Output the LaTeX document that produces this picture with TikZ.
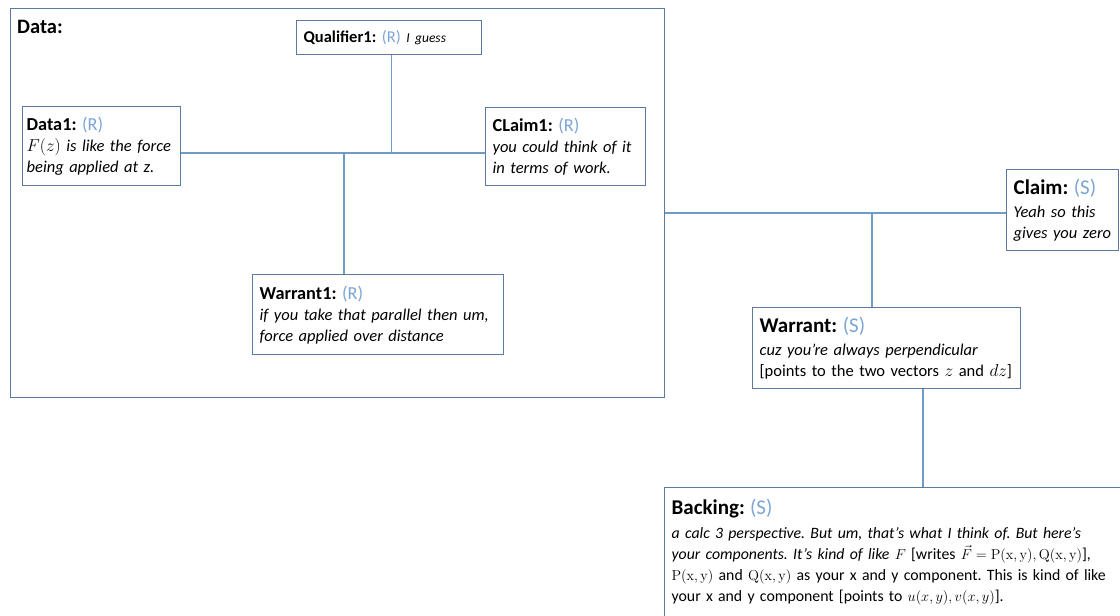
\documentclass[tikz,border=0pt]{standalone}
\usepackage[no-math]{fontspec}
\setmainfont{Carlito}
\frenchspacing

\definecolor{boxline}{HTML}{5B7B9E}
\definecolor{linkline}{HTML}{6F9BC8}
\definecolor{who}{HTML}{7BA6D6}

% header of a box: bold name plus the speaker tag in blue
\newcommand{\headsm}[2]{{\fontsize{18.3}{21}\selectfont\textbf{#1} {\color{who}(#2)}}}
\newcommand{\headbig}[2]{{\fontsize{21}{24}\selectfont\textbf{#1} {\color{who}(#2)}}}

\tikzset{
  box/.style={draw=boxline, line width=1.3pt, fill=white, anchor=north west,
    align=left, inner xsep=7pt, inner ysep=5pt, font=\fontsize{16.5}{21}\selectfont},
  link/.style={draw=linkline, line width=1.3pt}
}

\begin{document}
\begin{tikzpicture}[x=1pt,y=-1pt]
\useasboundingbox (0,0) rectangle (1120,616);

\node [box, minimum width=654, minimum height=389] (data) at (10,8) {};
\node [anchor=base west, inner sep=0pt, font=\fontsize{20.5}{24}\selectfont\bfseries] (datatitle) at (17,33) {Data:};

\node [box, text width=171, minimum height=34] (qualA) at (296,20)
  {{\fontsize{16.5}{21}\selectfont\textbf{Qualifier1:} {\color{who}(R)}} {\fontsize{13.5}{21}\selectfont\itshape I guess}};
\node [box, text width=150, inner xsep=4pt, minimum height=79] (dataA) at (22,106)
  {\headsm{Data1:}{R}\\ \itshape $F(z)$ is like the force\\ being applied at z.};
\node [box, text width=146, minimum height=78] (claimA) at (485,107)
  {\headsm{CLaim1:}{R}\\ \itshape you could think of it\\ in terms of work.};
\node [box, text width=237, minimum height=80] (warrantA) at (252,274)
  {\headsm{Warrant1:}{R}\\ \itshape if you take that parallel then um,\\ force applied over distance};

\node [box, text width=98, minimum height=81] (claim) at (1006,169)
  {\headbig{Claim:}{S}\\[2pt] \itshape Yeah so this\\ gives you zero};
\node [box, text width=254, minimum height=81] (warrant) at (752,307)
  {\headbig{Warrant:}{S}\\[2pt] \itshape cuz you're always perpendicular\\ \upshape{}[points to the two vectors $z$ and $dz$]};
\node [box, text width=470, inner ysep=11pt, text depth=130pt, font=\fontsize{15.8}{21}\selectfont] (backing) at (664,487)
  {\headbig{Backing:}{S}\\[3pt]
   \itshape a calc 3 perspective. But um, that's what I think of. But here's\\
   your components. It's kind of like $F$ \upshape[writes $\vec{F}=\mathrm{P(x,y)},\mathrm{Q(x,y)}$],\\
   $\mathrm{P(x,y)}$ and $\mathrm{Q(x,y)}$ as your x and y component. This is kind of like\\
   your x and y component [points to $u(x,y), v(x,y)$].};

\coordinate (hubA) at (344,153);
\draw [link] (dataA.east |- hubA) -- (claimA.west |- hubA);
\draw [link] ([xshift=2pt]qualA.south) -- ([xshift=2pt]qualA.south |- hubA);
\draw [link] (hubA) -- (hubA |- warrantA.north);

\coordinate (hubB) at (872,213);
\draw [link] (data.east |- hubB) -- (claim.west |- hubB);
\draw [link] (hubB) -- (hubB |- warrant.north);

\coordinate (hubC) at (923,440);
\draw [link] (hubC |- warrant.south) -- (hubC |- backing.north);
\end{tikzpicture}
\end{document}
